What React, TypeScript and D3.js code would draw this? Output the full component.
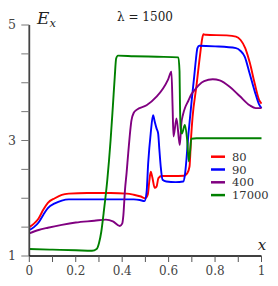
import React, { useEffect, useRef } from "react";
import * as d3 from "d3";

// series values (x position, E_x value)
const redX = [0, 0.02, 0.04, 0.06, 0.08, 0.11, 0.14, 0.17, 0.25, 0.35, 0.42, 0.45, 0.48, 0.5, 0.51, 0.517, 0.523, 0.53, 0.54, 0.548, 0.556, 0.57, 0.62, 0.665, 0.68, 0.69, 0.697, 0.703, 0.72, 0.73, 0.738, 0.744, 0.75, 0.76, 0.85, 0.89, 0.91, 0.93, 0.95, 0.97, 0.99, 1];
const redY = [1.5, 1.56, 1.65, 1.8, 1.92, 2.0, 2.06, 2.08, 2.09, 2.09, 2.08, 2.06, 2.03, 2.0, 2.06, 2.3, 2.46, 2.36, 2.18, 2.2, 2.35, 2.385, 2.385, 2.39, 2.43, 2.55, 3.07, 3.4, 3.95, 4.3, 4.57, 4.75, 4.84, 4.83, 4.82, 4.8, 4.74, 4.6, 4.34, 4.0, 3.7, 3.64];

const blueX = [0, 0.02, 0.04, 0.06, 0.08, 0.11, 0.14, 0.17, 0.3, 0.45, 0.476, 0.496, 0.505, 0.512, 0.523, 0.533, 0.54, 0.548, 0.555, 0.56, 0.566, 0.574, 0.59, 0.63, 0.663, 0.67, 0.677, 0.684, 0.691, 0.7, 0.71, 0.718, 0.724, 0.732, 0.8, 0.89, 0.91, 0.928, 0.949, 0.971, 0.99, 1];
const blueY = [1.45, 1.5, 1.58, 1.71, 1.83, 1.91, 1.96, 1.98, 1.98, 1.98, 1.97, 1.95, 2.1, 2.61, 3.13, 3.44, 3.33, 3.21, 3.12, 2.85, 2.55, 2.32, 2.29, 2.28, 2.29, 2.4, 2.68, 3.05, 3.35, 3.72, 4.1, 4.42, 4.6, 4.64, 4.63, 4.6, 4.55, 4.45, 4.16, 3.85, 3.62, 3.56];

const purpleX = [0, 0.04, 0.08, 0.14, 0.2, 0.28, 0.33, 0.36, 0.39, 0.4, 0.405, 0.412, 0.419, 0.426, 0.44, 0.45, 0.462, 0.505, 0.548, 0.576, 0.598, 0.612, 0.617, 0.621, 0.634, 0.648, 0.655, 0.662, 0.672, 0.684, 0.698, 0.713, 0.73, 0.753, 0.79, 0.82, 0.863, 0.906, 0.949, 0.975, 1];
const purpleY = [1.39, 1.45, 1.49, 1.54, 1.58, 1.61, 1.63, 1.6, 1.52, 1.56, 1.7, 2.14, 2.44, 2.78, 3.35, 3.48, 3.53, 3.61, 3.76, 3.9, 4.06, 4.19, 3.6, 3.07, 3.38, 2.92, 3.3, 3.45, 3.58, 3.68, 3.8, 3.88, 3.96, 4.03, 4.06, 4.04, 3.93, 3.77, 3.61, 3.56, 3.56];

const greenX = [0, 0.1, 0.2, 0.27, 0.29, 0.3, 0.31, 0.32, 0.336, 0.35, 0.36, 0.368, 0.374, 0.382, 0.45, 0.55, 0.642, 0.647, 0.649, 0.652, 0.657, 0.67, 0.68, 0.687, 0.692, 0.698, 0.72, 1];
const greenY = [1.12, 1.11, 1.1, 1.09, 1.12, 1.22, 1.42, 1.74, 2.32, 3.0, 3.6, 4.1, 4.42, 4.47, 4.46, 4.45, 4.44, 4.2, 3.6, 3.2, 3.12, 3.27, 3.0, 2.64, 2.8, 3.03, 3.04, 3.04];

const seriesLabels = ["80", "90", "400", "17000"];
const seriesColors = ["#ff0000", "#0000ff", "#800080", "#008000"];
const seriesXs = [redX, blueX, purpleX, greenX];
const seriesYs = [redY, blueY, purpleY, greenY];

const yTickLabels = [1, 3, 5];
const xTickLabels = [0, 0.2, 0.4, 0.6, 0.8, 1];

const W = 278;
const H = 286;
const FONT = "DejaVu Serif";

export default function App() {
  const svgRef = useRef<SVGSVGElement | null>(null);

  useEffect(() => {
    document.body.style.margin = "0";
    if (!svgRef.current) return;
    const svg = d3.select(svgRef.current);
    svg.selectAll("*").remove();

    const x = d3.scaleLinear().domain([0, 1]).range([29.3, 261.5]);
    const y = d3.scaleLinear().domain([1, 5]).range([256, 25]);

    // curves
    const line = d3
      .line<[number, number]>()
      .x((d) => x(d[0]))
      .y((d) => y(d[1]))
      .curve(d3.curveMonotoneX);

    seriesXs.forEach((xs, i) => {
      const pts: [number, number][] = xs.map((v, j) => [v, seriesYs[i][j]]);
      svg
        .append("path")
        .datum(pts)
        .attr("d", line)
        .attr("fill", "none")
        .attr("stroke", seriesColors[i])
        .attr("stroke-width", 1.9)
        .attr("stroke-linejoin", "round");
    });

    // y axis
    svg
      .append("line")
      .attr("x1", x(0))
      .attr("x2", x(0))
      .attr("y1", y(5))
      .attr("y2", y(1))
      .attr("stroke", "#444")
      .attr("stroke-width", 1.8);

    d3.range(1, 5.01, 0.5).forEach((v) => {
      svg
        .append("line")
        .attr("x1", x(0) - 8)
        .attr("x2", x(0))
        .attr("y1", y(v))
        .attr("y2", y(v))
        .attr("stroke", "#777")
        .attr("stroke-width", 1);
    });

    yTickLabels.forEach((v) => {
      svg
        .append("text")
        .attr("x", 16)
        .attr("y", y(v))
        .attr("dy", "0.35em")
        .attr("text-anchor", "end")
        .style("font-family", FONT)
        .attr("font-size", 12.5)
        .attr("fill", "#444")
        .text(v);
    });

    // x axis
    svg
      .append("line")
      .attr("x1", x(0))
      .attr("x2", x(1))
      .attr("y1", y(1))
      .attr("y2", y(1))
      .attr("stroke", "#000")
      .attr("stroke-width", 1.6);

    d3.range(0, 1.001, 0.1).forEach((v) => {
      svg
        .append("line")
        .attr("x1", x(v))
        .attr("x2", x(v))
        .attr("y1", y(1))
        .attr("y2", y(1) + 6)
        .attr("stroke", "#555")
        .attr("stroke-width", 1);
    });

    xTickLabels.forEach((v) => {
      svg
        .append("text")
        .attr("x", x(v))
        .attr("y", 275)
        .attr("text-anchor", "middle")
        .style("font-family", FONT)
        .attr("font-size", 12)
        .attr("fill", "#444")
        .text(v === 0 || v === 1 ? String(v) : v.toFixed(1));
    });

    // axis titles
    const ex = svg
      .append("text")
      .attr("x", 37)
      .attr("y", 24)
      .style("font-family", FONT)
      .attr("font-style", "italic")
      .attr("font-size", 17)
      .attr("fill", "#222");
    ex.append("tspan").text("E");
    ex.append("tspan").attr("font-size", 11.5).attr("dy", 3).text("x");

    svg
      .append("text")
      .attr("x", 262)
      .attr("y", 250)
      .attr("text-anchor", "middle")
      .style("font-family", FONT)
      .attr("font-style", "italic")
      .attr("font-size", 15)
      .attr("fill", "#222")
      .text("x");

    svg
      .append("text")
      .attr("x", 145)
      .attr("y", 21)
      .attr("text-anchor", "middle")
      .style("font-family", FONT)
      .attr("font-size", 12)
      .attr("fill", "#222")
      .text("λ = 1500");

    // legend
    seriesLabels.forEach((lab, i) => {
      const ly = 156.7 + i * 12.8;
      svg
        .append("line")
        .attr("x1", 211)
        .attr("x2", 225)
        .attr("y1", ly)
        .attr("y2", ly)
        .attr("stroke", seriesColors[i])
        .attr("stroke-width", 2.5);
      svg
        .append("text")
        .attr("x", 232)
        .attr("y", ly)
        .attr("dy", "0.35em")
        .style("font-family", FONT)
        .attr("font-size", 11.5)
        .attr("fill", "#333")
        .text(lab);
    });
  }, []);

  return (
    <svg ref={svgRef} width={W} height={H} style={{ display: "block", background: "#fff" }} />
  );
}
